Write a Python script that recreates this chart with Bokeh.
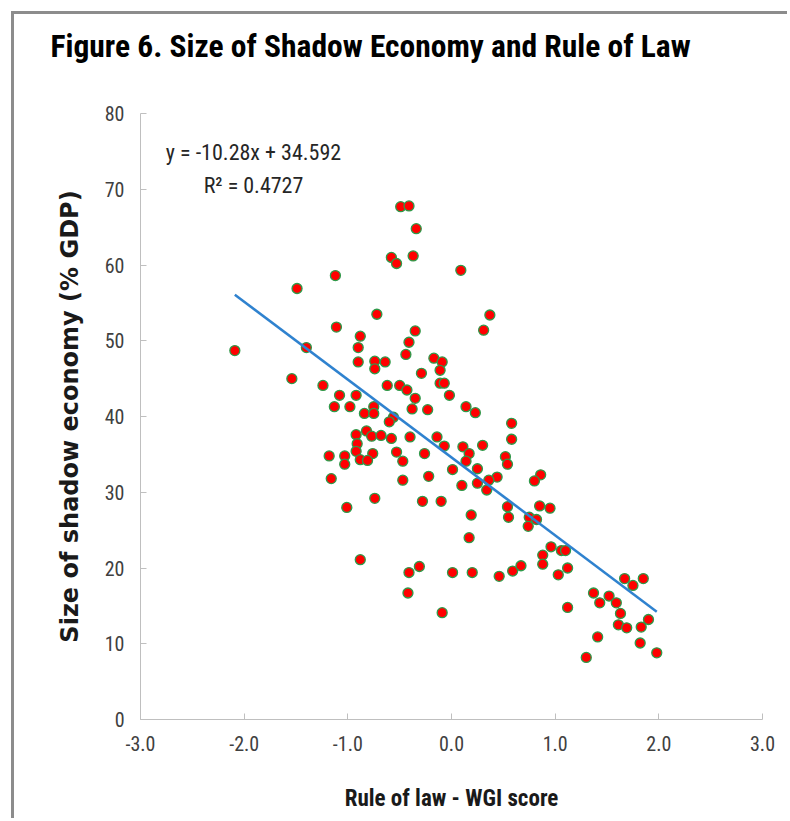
from bokeh.plotting import figure
from bokeh.models import Label, Range1d, ColumnDataSource, Title
from bokeh.embed import file_html
from bokeh.resources import INLINE

NARROW = "Liberation Sans Narrow, Roboto Condensed, Liberation Sans, sans-serif"

# Rule of law (WGI score) per country
rule_of_law = [
    -0.49, -0.41, -0.34, -0.58, -0.53, -0.37, 0.09, -1.12, -1.49, -0.72,
    -1.11, -0.35, -0.88, -0.41, -1.40, -0.90, -2.09, -0.44, -0.90, -0.74,
    -0.64, -0.74, -0.17, -0.09, -0.11, -0.29, -0.11, -0.07, -1.54, -1.24,
    -0.62, -0.50, -0.43, -0.35, -0.02, -1.08, -0.92, -1.13, -0.98, -0.75,
    -0.84, -0.75, -0.38, -0.23, -0.56, 0.14, 0.23, -0.60, -0.92, -0.82,
    -0.77, -0.68, -0.58, -0.40, -0.14, -0.07, 0.11, -0.91, -0.92, -1.18,
    -1.03, -0.76, -0.53, -0.26, -0.88, -0.81, -1.03, -0.47, 0.01, 0.10,
    -1.16, -0.47, -0.22, -1.01, -0.74, -0.28, -0.10, -0.88, -0.41, -0.31,
    0.01, -0.42, -0.09, 0.58, 0.58, 0.17, 0.30, 0.14, 0.52, 0.54,
    0.25, 0.44, 0.36, 0.86, 0.80, 0.25, 0.34, 0.54, 0.85, 0.95,
    0.19, 0.55, 0.75, 0.82, 0.74, 0.17, 0.96, 0.88, 1.06, 1.10,
    0.88, 1.12, 0.20, 0.46, 0.59, 0.67, 1.03, 1.67, 1.75, 1.85,
    1.37, 1.43, 1.52, 1.59, 1.63, 1.12, 1.61, 1.69, 1.83, 1.90,
    1.41, 1.82, 1.30, 1.98, 0.37, 0.31,
]

# Size of shadow economy (% of GDP) per country
shadow_economy = [
    67.7, 67.8, 64.8, 61.0, 60.2, 61.2, 59.3, 58.6, 56.9, 53.5,
    51.8, 51.3, 50.6, 49.8, 49.1, 49.1, 48.7, 48.2, 47.2, 47.3,
    47.2, 46.3, 47.7, 47.2, 46.1, 45.7, 44.4, 44.4, 45.0, 44.1,
    44.1, 44.1, 43.5, 42.4, 42.8, 42.8, 42.8, 41.3, 41.3, 41.3,
    40.4, 40.4, 41.0, 40.9, 39.9, 41.3, 40.5, 39.3, 37.6, 38.1,
    37.4, 37.5, 37.1, 37.3, 37.3, 36.1, 36.0, 36.4, 35.4, 34.8,
    34.8, 35.1, 35.3, 35.1, 34.3, 34.2, 33.7, 34.1, 33.0, 30.9,
    31.8, 31.6, 32.1, 28.0, 29.2, 28.8, 28.8, 21.1, 19.4, 20.2,
    19.4, 16.7, 14.1, 39.1, 37.0, 35.1, 36.2, 34.1, 34.7, 33.7,
    33.1, 32.0, 31.6, 32.3, 31.5, 31.2, 30.3, 28.1, 28.2, 27.9,
    27.0, 26.7, 26.7, 26.4, 25.5, 24.0, 22.8, 21.7, 22.3, 22.3,
    20.5, 20.0, 19.4, 18.9, 19.6, 20.3, 19.1, 18.6, 17.7, 18.6,
    16.7, 15.4, 16.3, 15.4, 14.0, 14.8, 12.5, 12.1, 12.2, 13.2,
    10.9, 10.1, 8.2, 8.8, 53.4, 51.4,
]

x_ticks = [-3, -2, -1, 0, 1, 2, 3]
x_tick_labels = ["-3.0", "-2.0", "-1.0", "0.0", "1.0", "2.0", "3.0"]
y_ticks = [0, 10, 20, 30, 40, 50, 60, 70, 80]

# Linear trend fitted to the scatter
trend_slope = -10.28
trend_intercept = 34.592
trend_r2 = 0.4727

p = figure(
    width=776, height=807,
    x_range=Range1d(-3, 3), y_range=Range1d(0, 80),
    output_backend="svg", toolbar_location=None,
    min_border_left=126, min_border_right=28,
    min_border_top=99, min_border_bottom=102,
    title="Figure 6. Size of Shadow Economy and Rule of Law",
)
p.styles = {
    "margin-left": "11px", "margin-top": "11px",
    "border-left": "3px solid #8c8c8c", "border-top": "3px solid #8c8c8c",
}
p.title.align = "left"
p.title.vertical_align = "bottom"
p.title.offset = -90
p.title.standoff = 10
p.title.text_font = NARROW
p.title.text_font_style = "bold"
p.title.text_font_size = "31.5px"
p.title.text_color = "black"

# blank band between the heading and the plotting area
p.add_layout(Title(text=" ", text_font_size="2px", standoff=40), "above")

p.outline_line_color = None
p.xgrid.visible = False
p.ygrid.visible = False
p.background_fill_color = "white"
p.border_fill_color = "white"

for ax in (p.xaxis, p.yaxis):
    ax.axis_line_color = "#bfbfbf"
    ax.axis_line_width = 1
    ax.major_tick_line_color = "#bfbfbf"
    ax.major_tick_in = 6
    ax.major_tick_out = 0
    ax.minor_tick_line_color = None
    ax.major_label_text_font = NARROW
    ax.major_label_text_font_size = "20px"
    ax.major_label_text_color = "#404040"
    ax.axis_label_text_font_style = "bold"
    ax.axis_label_text_color = "#1a1a1a"

p.xaxis.ticker = x_ticks
p.xaxis.major_label_overrides = {t: l for t, l in zip(x_ticks, x_tick_labels)}
p.xaxis.major_label_standoff = 16
p.xaxis.axis_label = "Rule of law - WGI score"
p.xaxis.axis_label_text_font = NARROW
p.xaxis.axis_label_text_font_size = "23px"
p.xaxis.axis_label_standoff = 31

p.yaxis.ticker = y_ticks
p.yaxis.major_label_standoff = 16
p.yaxis.axis_label = "Size of shadow economy (% GDP)"
p.yaxis.axis_label_text_font = "DejaVu Sans"
p.yaxis.axis_label_text_font_size = "24px"
p.yaxis.axis_label_standoff = 18

src = ColumnDataSource(dict(x=rule_of_law, y=shadow_economy))
p.scatter("x", "y", source=src, marker="circle", size=10,
          fill_color="#ff0000", line_color="#2e9a4a", line_width=1.3)

# Trend line across the observed range of scores
x0, x1 = min(rule_of_law), max(rule_of_law)
p.line([x0, x1],
       [trend_slope * x0 + trend_intercept, trend_slope * x1 + trend_intercept],
       line_color="#2f82cf", line_width=2.5)

eq_text = f"y = {trend_slope:g}x + {trend_intercept:g}"
p.add_layout(Label(x=-1.91, y=74.8, text=eq_text, text_align="center",
                   text_baseline="middle", text_font=NARROW,
                   text_font_size="22px", text_color="#262626"))
p.add_layout(Label(x=-1.91, y=70.5, text=f"R² = {trend_r2:g}", text_align="center",
                   text_baseline="middle", text_font=NARROW,
                   text_font_size="22px", text_color="#262626"))

with open("out.html", "w") as f:
    f.write(file_html(p, INLINE))
